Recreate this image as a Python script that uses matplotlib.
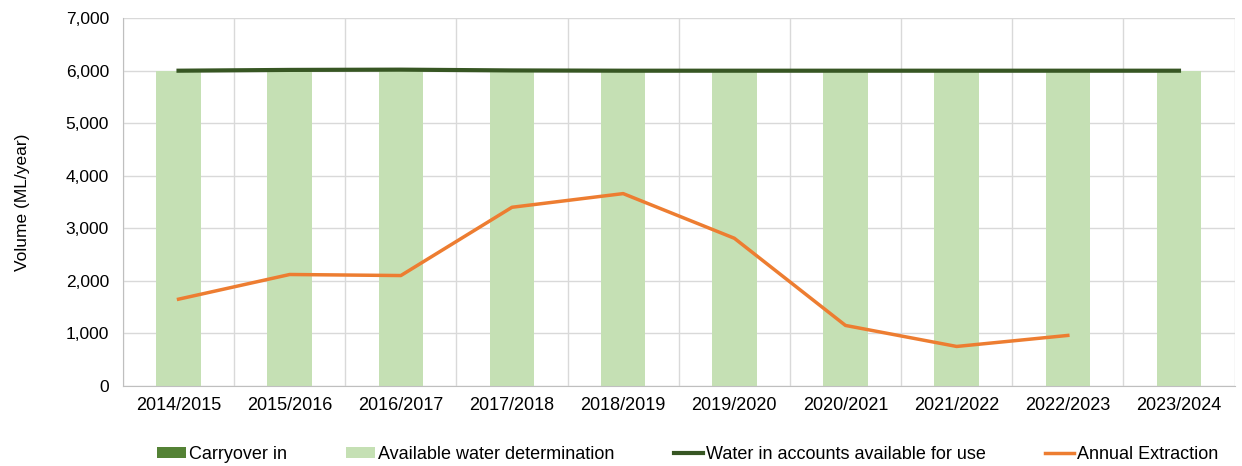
import matplotlib.pyplot as plt
import numpy as np
from matplotlib.ticker import FuncFormatter, MultipleLocator

plt.rcParams['font.family'] = ['Liberation Sans', 'DejaVu Sans']

years = ['2014/2015', '2015/2016', '2016/2017', '2017/2018', '2018/2019',
         '2019/2020', '2020/2021', '2021/2022', '2022/2023', '2023/2024']
carryover = [0, 0, 0, 0, 0, 0, 0, 0, 0, 0]
awd = [6000, 6000, 6000, 6000, 6000, 6000, 6000, 6000, 6000, 6000]
water_in_accounts = [6000, 6015, 6020, 6005, 6000, 6000, 6000, 6000, 6000, 6000]
extraction = [1650, 2120, 2100, 3400, 3660, 2810, 1150, 750, 960]

fig = plt.figure(figsize=(12.42, 4.66), dpi=100)
ax = fig.add_axes([0.099, 0.172, 0.895, 0.789])

x = np.arange(len(years))
w = 0.4
h1 = ax.bar(x, carryover, w, color='#548235', label='Carryover in', zorder=2)
h2 = ax.bar(x, awd, w, bottom=carryover, color='#c5e0b4', label='Available water determination', zorder=2)
h3, = ax.plot(x, water_in_accounts, color='#375623', lw=3, label='Water in accounts available for use', zorder=3)
h4, = ax.plot(x[:len(extraction)], extraction, color='#ed7d31', lw=2.5, label='Annual Extraction', zorder=4)

ax.set_xlim(-0.5, len(years) - 0.5)
ax.set_ylim(0, 7000)
ax.yaxis.set_major_locator(MultipleLocator(1000))
ax.yaxis.set_major_formatter(FuncFormatter(lambda v, p: f'{int(v):,}'))
ax.set_xticks(x)
ax.set_xticklabels(years, fontsize=13)
ax.set_xticks(np.arange(-0.5, len(years)), minor=True)
ax.grid(axis='y', color='#d9d9d9', lw=1, zorder=0)
ax.grid(axis='x', which='minor', color='#d9d9d9', lw=1, zorder=0)
ax.tick_params(axis='both', which='both', length=0, colors='#000000')
ax.tick_params(axis='y', labelsize=12.5, pad=10)
ax.tick_params(axis='x', pad=8)
for s in ['top', 'right']:
    ax.spines[s].set_visible(False)
ax.spines['left'].set_color('#bfbfbf')
ax.spines['bottom'].set_color('#bfbfbf')
ax.set_ylabel('Volume (ML/year)', fontsize=12.5, labelpad=26)

fig.legend([h1, h2, h3, h4],
           ['Carryover in', 'Available water determination',
            'Water in accounts available for use', 'Annual Extraction'],
           loc='lower center', bbox_to_anchor=(0.5536, -0.028), ncol=4, frameon=False,
           fontsize=13, handlelength=1.6, handleheight=0.55, columnspacing=3.3, handletextpad=0.15)

fig.savefig('out.png', dpi=100)
